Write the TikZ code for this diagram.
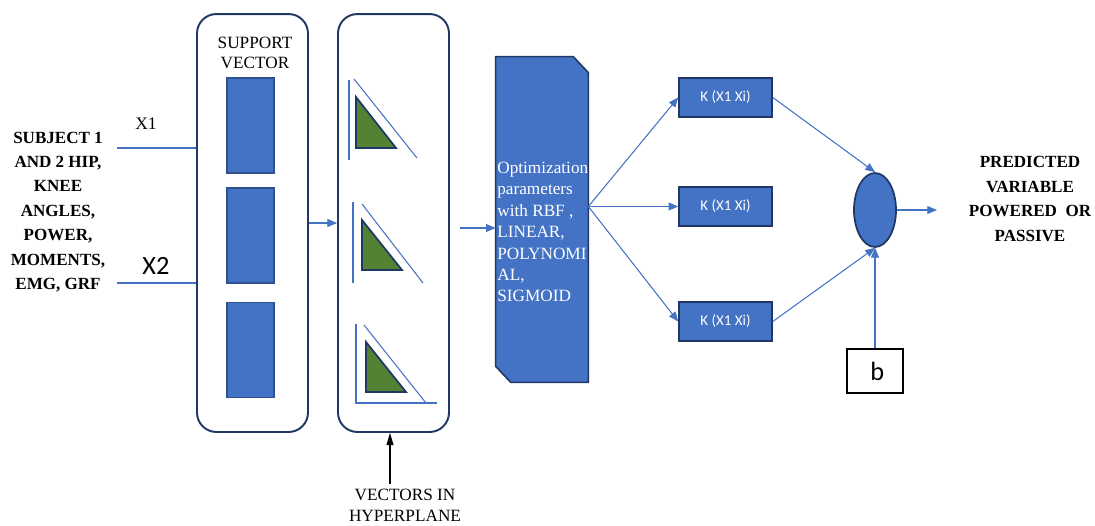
\documentclass[tikz,border=0pt]{standalone}
\usepackage{fontspec}
\setmainfont{Liberation Serif}
\newfontfamily\calibri{Carlito}
\usetikzlibrary{arrows.meta}
\usetikzlibrary{positioning}
\usetikzlibrary{shapes.geometric}

\definecolor{boxblue}{HTML}{4472C4}
\definecolor{edgeblue}{HTML}{2F528F}
\definecolor{navy}{HTML}{203864}
\definecolor{leaf}{HTML}{548235}

\tikzset{
  panel/.style={draw=navy, line width=1.1pt, rounded corners=11pt,
    minimum width=2.22cm, minimum height=8.36cm},
  svrect/.style={draw=edgeblue, fill=boxblue, line width=0.9pt,
    minimum width=0.94cm, minimum height=1.9cm},
  kbox/.style={draw=navy, fill=boxblue, line width=0.9pt,
    minimum width=1.86cm, minimum height=0.78cm, text=white,
    font=\calibri\fontsize{8.5}{10}\selectfont},
  optbox/.style={minimum width=1.84cm, minimum height=6.5cm, inner sep=0pt},
  snip/.style={draw=navy, fill=boxblue, line width=0.9pt, line join=miter},
  wire/.style={draw=boxblue, line width=0.6pt},
  flow/.style={wire, -{Triangle[length=5.5pt,width=4.5pt]}},
  tri/.style={fill=leaf, draw=navy, line width=1pt, line join=miter},
  plain/.style={font=\fontsize{9.8}{11.8}\selectfont, align=center, inner sep=0pt},
  heavy/.style={font=\bfseries\fontsize{9.7}{13.9}\selectfont, align=center, inner sep=0pt}
}

\begin{document}
\begin{tikzpicture}[x=0.02cm, y=-0.02cm]
\useasboundingbox (0,0) rectangle (1095,525);

% inputs
\node[heavy] (inputs) at (58,212) {SUBJECT 1\\AND 2 HIP,\\KNEE\\ANGLES,\\POWER,\\MOMENTS,\\EMG, GRF};
\node[font=\fontsize{10}{12}\selectfont, inner sep=0pt] (x1) at (146,124) {X1};
\node[font=\calibri\fontsize{15}{18}\selectfont, inner sep=0pt] (x2) at (156,266) {X2};
\coordinate (in1) at (117,148);
\coordinate (in2) at (117,283);

% support vectors
\node[panel] (svbox) at (252.5,223) {};
\node[plain] (svlbl) at (255,53) {SUPPORT\\VECTOR};
\node[svrect] (sv1) at (250.5,125.5) {};
\node[svrect] (sv2) at (250.5,235.5) {};
\node[svrect] (sv3) at (250.5,350) {};

\draw[wire] (in1) -- (in1 -| svbox.west);
\draw[wire] (in2) -- (in2 -| svbox.west);

% hyperplane
\node[panel] (hpbox) at (393.5,223) {};
\draw[wire] (349,80) -- (349,160);
\draw[wire] (354,79) -- (417,158);
\filldraw[tri] (356,97) -- (356,148) -- (396,148) -- cycle;
\draw[wire] (353,202) -- (353,283);
\draw[wire] (362,204) -- (423,283);
\filldraw[tri] (362,220) -- (362,270) -- (402,270) -- cycle;
\draw[wire] (356,324) -- (356,403) -- (437,403);
\draw[wire] (364,325) -- (426,403);
\filldraw[tri] (366,342) -- (366,392) -- (406,392) -- cycle;

\draw[flow] (svbox.east) -- (hpbox.west);

\node[plain] (hplbl) at (405,505) {VECTORS IN\\HYPERPLANE};
\coordinate (vtail) at (390,484);
\draw[-{Triangle[length=7pt,width=4pt]}, line width=0.6pt] (vtail) -- (vtail |- hpbox.south);

% kernels
\node[optbox] (opt) at (542,219.5) {};
\filldraw[snip] (opt.north west) -- ([xshift=-0.3cm]opt.north east) -- ([yshift=-0.32cm]opt.north east)
  -- (opt.south east) -- ([xshift=0.3cm]opt.south west) -- ([yshift=0.32cm]opt.south west) -- cycle;
\node[font=\fontsize{9.8}{12.2}\selectfont, text=white, align=left, inner sep=0pt, anchor=west]
  (optlbl) at (497,232) {Optimization\\parameters\\with RBF ,\\LINEAR,\\POLYNOMI\\AL,\\SIGMOID};
\coordinate (optin) at (460,228);
\draw[flow] (optin) -- (optin -| opt.west);

\node[kbox] (k1) at (725.5,97.5) {K (X1 Xi)};
\node[kbox] (k2) at (725.5,206.5) {K (X1 Xi)};
\node[kbox] (k3) at (725.5,321.5) {K (X1 Xi)};

\coordinate (fan) at (opt.east |- k2);
\draw[flow] (fan) -- (k1.west);
\draw[flow] (fan) -- (k2.west);
\draw[flow] (fan) -- (k3.west);

% output
\node[ellipse, draw=navy, fill=boxblue, line width=1pt, minimum width=0.84cm, minimum height=1.48cm, inner sep=0pt] (sum) at (875,210) {};
\node[draw, line width=0.9pt, minimum width=1.12cm, minimum height=0.88cm, font=\calibri\fontsize{15}{18}\selectfont] (bias) at (875,371) {\,b};

\draw[flow] (k1.east) -- (sum.north);
\draw[flow] (k3.east) -- (sum.south);
\draw[flow] (bias.north) -- (sum.south);

\coordinate (outend) at (937,210);
\draw[flow] (sum.east) -- (outend);

\node[heavy] (result) at (1030,199) {PREDICTED\\VARIABLE\\POWERED~~OR\\PASSIVE};

\end{tikzpicture}
\end{document}
